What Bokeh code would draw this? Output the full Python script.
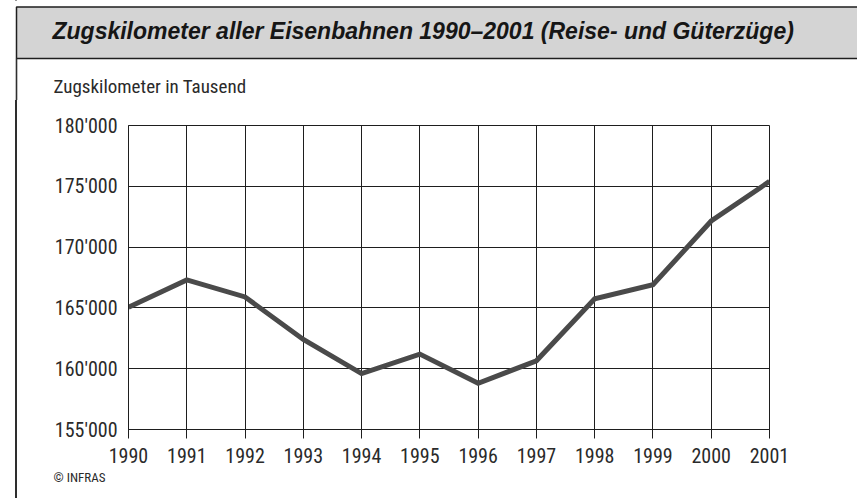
from bokeh.plotting import figure
from bokeh.layouts import column, row
from bokeh.models import Range1d, FixedTicker, Label, Title
from bokeh.embed import file_html
from bokeh.resources import INLINE

# ---- data ----
years = [1990, 1991, 1992, 1993, 1994, 1995, 1996, 1997, 1998, 1999, 2000, 2001]
zugskm = [165050, 167300, 165900, 162400, 159600, 161200, 158800, 160650, 165750, 166900, 172150, 175400]
y_ticks = [155000, 160000, 165000, 170000, 175000, 180000]
y_tick_labels = ["155'000", "160'000", "165'000", "170'000", "175'000", "180'000"]
title_text = "Zugskilometer aller Eisenbahnen 1990\u20132001 (Reise- und Güterzüge)"
unit_text = "Zugskilometer in Tausend"
source_text = "\u00a9 INFRAS"

FONT = "'Liberation Sans Narrow', 'Roboto Condensed', 'DejaVu Sans Condensed', 'Liberation Sans', sans-serif"
TFONT = "'Liberation Sans', Arial, sans-serif"
INK = "#1e1e1e"
BAR = "#2e2e2e"
TXT = "#2a2a2a"
LEFT_RULE = ("linear-gradient(to right, #ffffff 0px, #ffffff 15px, #2e2e2e 15px, "
             "#2e2e2e 17px, #ffffff 17px, #ffffff 100%)")


def helper(w, h, alpha=1.0):
    """A figure whose frame is the whole canvas, with pixel coordinates (y downwards)."""
    f = figure(width=w, height=h, output_backend="svg", toolbar_location=None,
               x_range=Range1d(0, w), y_range=Range1d(h, 0),
               x_axis_type=None, y_axis_type=None, min_border=0,
               background_fill_color="white", border_fill_color="white",
               background_fill_alpha=alpha, border_fill_alpha=alpha)
    f.outline_line_color = None
    f.xgrid.visible = False
    f.ygrid.visible = False
    return f


# ---- header (page y 0..100): title box, left border, unit text ----
hdr = helper(857, 100)
hdr.quad(left=[16], right=[880], top=[6.5], bottom=[58], fill_color="#d4d4d4",
         line_color=INK, line_width=1.5)
hdr.quad(left=[15.2], right=[16.8], top=[58], bottom=[101], fill_color=BAR, line_color=None)
hdr.add_layout(Label(x=52, y=30.5, text=title_text, text_font=TFONT, text_font_style="bold italic",
                     text_font_size="23px", text_color="#161616", text_baseline="middle",
                     text_align="left"))
hdr.add_layout(Label(x=53, y=85.5, text=unit_text, text_font=FONT, text_font_size="19px",
                     text_color=TXT, text_baseline="middle", text_align="left"))

# ---- left border strip (page x 0..17, y 100..498), transparent so the page rule shows ----
lft = helper(17, 398, alpha=0.0)
lft.quad(left=[15.2], right=[16.8], top=[-1], bottom=[400], fill_color=BAR, line_color=None)

# thin empty strips above and below the chart
top_pad = helper(840, 4)
bot_pad = helper(840, 4)

# ---- main chart (page x 17..857, y 104..494) ----
p = figure(width=840, height=390, output_backend="svg", toolbar_location=None,
           x_range=Range1d(years[0], years[-1]), y_range=Range1d(y_ticks[0], y_ticks[-1]),
           min_border_left=111, min_border_right=88, min_border_top=21, min_border_bottom=65,
           background_fill_color="white", border_fill_color="white")
p.outline_line_color = INK
p.outline_line_width = 1

xa = p.xaxis[0]
xa.ticker = FixedTicker(ticks=years)
xa.axis_line_color = INK
xa.major_tick_line_color = INK
xa.major_tick_in = 0
xa.major_tick_out = 9
xa.minor_tick_line_color = None
xa.major_label_standoff = 9
xa.major_label_text_font = FONT
xa.major_label_text_font_size = "20px"
xa.major_label_text_color = TXT

ya = p.yaxis[0]
ya.ticker = FixedTicker(ticks=y_ticks)
ya.major_label_overrides = {t: l for t, l in zip(y_ticks, y_tick_labels)}
ya.axis_line_color = INK
ya.major_tick_line_color = None
ya.major_tick_in = 0
ya.major_tick_out = 0
ya.minor_tick_line_color = None
ya.major_label_standoff = 11
ya.major_label_text_font = FONT
ya.major_label_text_font_size = "20px"
ya.major_label_text_color = TXT

p.xgrid.ticker = FixedTicker(ticks=years)
p.ygrid.ticker = FixedTicker(ticks=y_ticks)
for g in (p.xgrid[0], p.ygrid[0]):
    g.grid_line_color = INK
    g.grid_line_width = 1
    g.grid_line_alpha = 1.0

p.line(years, zugskm, line_color="#4a4a4a", line_width=5, line_join="miter")

# source note under the x axis
p.add_layout(Title(text=source_text, align="left", offset=-75, standoff=4,
                   text_font=FONT, text_font_size="13px", text_font_style="normal",
                   text_color=TXT), "below")

body = row(lft, column(top_pad, p, bot_pad, spacing=0), spacing=0,
           styles={"background": LEFT_RULE})
layout = column(hdr, body, spacing=0, styles={"background": LEFT_RULE})

open("out.html", "w").write(file_html(layout, INLINE))
